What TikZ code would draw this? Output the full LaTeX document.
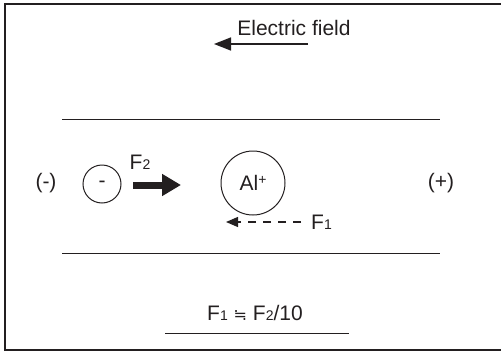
\documentclass[tikz,border=0pt]{standalone}
\usepackage{fontspec}
\setmainfont{Liberation Sans}
\newfontfamily\symfont{DejaVu Sans}
\usetikzlibrary{arrows.meta}
\definecolor{ink}{RGB}{35,31,32}
\tikzset{
  lbl/.style={inner sep=0pt, text=ink, font=\fontsize{21}{25}\selectfont},
  particle/.style={draw=ink, circle, line width=1pt, inner sep=0pt, text=ink, font=\fontsize{21}{25}\selectfont},
  frame/.style={draw=ink, line width=2pt},
  plate/.style={draw=ink, line width=1pt},
}
\newcommand{\sbs}[1]{{\fontsize{14}{16}\selectfont #1}}
\begin{document}
\begin{tikzpicture}[x=1pt,y=-1pt]
\useasboundingbox (0,0) rectangle (501,351);
% frame
\draw[frame] (5,351) -- (5,4) -- (501,4);
\draw[frame] (4,350) -- (501,350);
% plates
\draw[plate] (62,119) -- (440,119);
\draw[plate] (62,253) -- (440,253);
% electric field
\node[lbl] (ef) at (294,28) {Electric field};
\coordinate (efa) at (308,44);
\coordinate (efb) at (214,44);
\draw[ink, line width=1.6pt, -{Triangle[length=17pt,width=13pt]}] (efa) -- (efb);
% electrodes
\node[lbl] (neg) at (46,183) {(-)};
\node[lbl] (pos) at (441,183) {(+)};
% particles
\node[particle, minimum size=38pt] (e) at (102,184) {-};
\node[particle, minimum size=64pt] (al) at (253,183) {Al\raisebox{0.55ex}{\sbs{+}}};
% F2 arrow
\node[lbl] (f2) at (140,162) {F\sbs{2}};
\coordinate (f2a) at (133,185);
\coordinate (f2b) at (181,185);
\draw[ink, line width=7pt, -{Triangle[length=19pt,width=21pt]}] (f2a) -- (f2b);
% F1 arrow
\coordinate (f1a) at (301,222);
\coordinate (f1b) at (226,222);
\draw[ink, line width=1.3pt, dash pattern=on 8pt off 7pt, -{Triangle[length=12pt,width=10pt]}] (f1a) -- (f1b);
\node[lbl, anchor=west] (f1) at (311,222) {F\sbs{1}};
% formula
\node[lbl] (fm) at (255,313) {F\sbs{1} {\symfont\fontsize{16}{18}\selectfont ≒} F\sbs{2}/10};
\coordinate (ula) at (165,333);
\coordinate (ulb) at (349,333);
\draw[plate] (ula) -- (ulb);
\end{tikzpicture}
\end{document}
